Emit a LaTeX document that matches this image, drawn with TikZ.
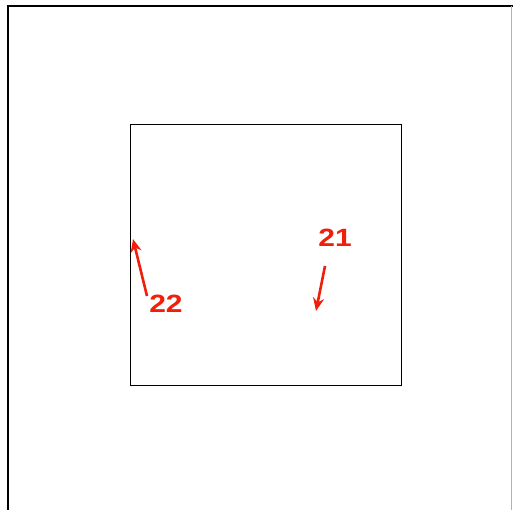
\documentclass[tikz,border=0pt]{standalone}
\usepackage{fontspec}
\setmainfont{Liberation Sans}
\usetikzlibrary{arrows.meta}
\definecolor{lblred}{RGB}{240,30,10}
\tikzset{
  frame/.style={draw=black, line width=1.5pt},
  box/.style={draw=black, line width=1.3pt},
  pointer/.style={draw=lblred, line width=2.6pt, -{Stealth[length=13pt,width=11pt]}},
  lbl/.style={text=lblred, font=\fontsize{25}{25}\selectfont\bfseries, inner sep=0pt, xscale=1.2}
}
\begin{document}
\begin{tikzpicture}[x=1pt,y=-1pt]
\useasboundingbox (0,0) rectangle (513,510);
\fill[white] (0,0) rectangle (513,510);
\coordinate (otl) at (8,6);
\coordinate (otr) at (513,6);
\coordinate (obl) at (8,510);
\draw[frame] (otr) -- (otl) -- (obl);
\draw[black!30, line width=0.8pt] (511.5,6) -- (511.5,510);
\node[box, minimum width=271pt, minimum height=261pt, inner sep=0pt, anchor=north west] (sq) at (130,124) {};
\node[lbl] (l21) at (335,238) {21};
\node[lbl] (l22) at (166,304) {22};
\coordinate (a21s) at (325,266);
\coordinate (a21e) at (316,311);
\coordinate (a22s) at (147,296);
\coordinate (a22e) at (133,239);
\draw[pointer] (a21s) -- (a21e);
\draw[pointer] (a22s) -- (a22e);
\end{tikzpicture}
\end{document}
